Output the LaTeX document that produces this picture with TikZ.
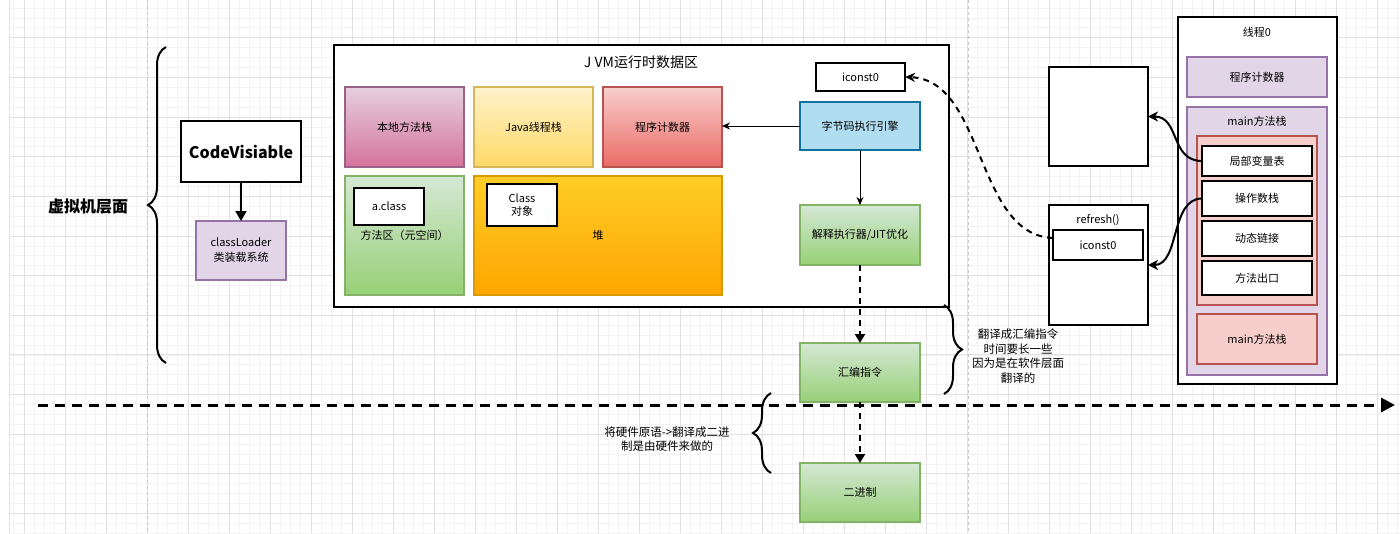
\documentclass[tikz,border=0pt]{standalone}
\usepackage{fontspec}
\setmainfont{Noto Sans CJK SC}
\usetikzlibrary{arrows.meta,decorations.pathreplacing}

\definecolor{gridminor}{HTML}{F3F3F3}
\definecolor{gridmajor}{HTML}{E2E2E2}
\definecolor{pagebreak}{HTML}{C8C8C8}
\definecolor{lavfill}{HTML}{E1D5E7}
\definecolor{lavline}{HTML}{9673A6}
\definecolor{greentop}{HTML}{D5E8D4}
\definecolor{greenbot}{HTML}{97D077}
\definecolor{greenline}{HTML}{82B366}
\definecolor{pinktop}{HTML}{E6D0DE}
\definecolor{pinkbot}{HTML}{D5739D}
\definecolor{pinkline}{HTML}{996185}
\definecolor{yellowtop}{HTML}{FFF2CC}
\definecolor{yellowbot}{HTML}{FFD966}
\definecolor{yellowline}{HTML}{D6B656}
\definecolor{redtop}{HTML}{F8CECC}
\definecolor{redbot}{HTML}{EA6B66}
\definecolor{redline}{HTML}{B85450}
\definecolor{orangetop}{HTML}{FFCD28}
\definecolor{orangebot}{HTML}{FFA500}
\definecolor{orangeline}{HTML}{D79B00}
\definecolor{bluefill}{HTML}{B1DDF0}
\definecolor{blueline}{HTML}{10739E}

\tikzset{
  jbox/.style={draw, line width=1.5pt, inner sep=2pt, outer sep=0pt, anchor=north west,
    align=center, font=\fontsize{11}{14}\selectfont},
  blackbox/.style={jbox, draw=black, fill=white, line width=2pt},
  lavbox/.style={jbox, draw=lavline, fill=lavfill},
  pinkbox/.style={jbox, draw=pinkline, top color=pinktop, bottom color=pinkbot},
  yellowbox/.style={jbox, draw=yellowline, top color=yellowtop, bottom color=yellowbot},
  redbox/.style={jbox, draw=redline, top color=redtop, bottom color=redbot},
  redplain/.style={jbox, draw=redline, fill=redtop},
  orangebox/.style={jbox, draw=orangeline, top color=orangetop, bottom color=orangebot},
  greenbox/.style={jbox, draw=greenline, top color=greentop, bottom color=greenbot},
  bluebox/.style={jbox, draw=blueline, fill=bluefill},
  txt/.style={inner sep=0pt, align=center, font=\fontsize{11}{14}\selectfont},
  thinarrow/.style={line width=1pt, -{Stealth[length=8pt,width=7pt]}},
  solidarrow/.style={line width=2pt, -{Triangle[length=10pt,width=11pt]}},
  dasharrow/.style={line width=2pt, dash pattern=on 6pt off 5pt, -{Triangle[length=9pt,width=10pt]}},
  dashcurve/.style={line width=2pt, dash pattern=on 6pt off 5pt, -{Stealth[length=10pt,width=9pt]}},
  curvearrow/.style={line width=2pt, -{Stealth[length=10pt,width=10pt,inset=3pt]}},
  bigdash/.style={line width=3pt, dash pattern=on 10pt off 7pt, -{Triangle[length=14pt,width=14pt]}},
  curly/.style={decorate, decoration={brace, amplitude=18pt}, line width=2pt},
}

\begin{document}
\begin{tikzpicture}[x=1pt, y=-1pt]
  \useasboundingbox[fill=white] (0,0) rectangle (1400,533);
  % grid and page breaks
  \foreach \k in {-13,...,122}
    \draw[gridminor, line width=0.6pt] ({147+10.25*\k},0) -- ({147+10.25*\k},533);
  \foreach \k in {-3,...,50}
    \draw[gridminor, line width=0.6pt] (9,{37.7+9.91*\k}) -- (1400,{37.7+9.91*\k});
  \foreach \k in {-12,-8,...,120}
    \draw[gridmajor, line width=0.8pt] ({147+10.25*\k},0) -- ({147+10.25*\k},533);
  \foreach \k in {0,4,...,48}
    \draw[gridmajor, line width=0.8pt] (9,{37.7+9.91*\k}) -- (1400,{37.7+9.91*\k});
  \draw[gridmajor, line width=0.8pt] (9,0) -- (9,533);
  \draw[pagebreak, dashed] (147,0) -- (147,533);
  \draw[pagebreak, dashed] (968,0) -- (968,533);

  % left part
  \node[txt, font=\bfseries\fontsize{16}{18}\selectfont] (vmlayer) at (88,207) {虚拟机层面};
  \draw[curly] (166,363) -- (166,47);
  \node[blackbox, minimum width=120, minimum height=61, font=\bfseries\fontsize{16}{18}\selectfont] (code) at (181,121) {CodeVisiable};
  \node[lavbox, minimum width=90, minimum height=59, font=\fontsize{11}{15}\selectfont] (loader) at (196,221) {classLoader\\类装载系统};
  \draw[solidarrow] (code) -- (loader);

  % runtime data area
  \node[blackbox, minimum width=615, minimum height=262] (jvm) at (334,45) {};
  \node[txt, font=\fontsize{14}{16}\selectfont] (jvmtitle) at (641,62) {J VM运行时数据区};
  \node[blackbox, minimum width=89, minimum height=28] (iconsta) at (816,63) {iconst0};
  \node[pinkbox, minimum width=119, minimum height=80] (native) at (345,87) {本地方法栈};
  \node[yellowbox, minimum width=119, minimum height=80] (javastack) at (474,87) {Java线程栈};
  \node[redbox, minimum width=119, minimum height=80] (pc) at (603,87) {程序计数器};
  \node[bluebox, minimum width=120, minimum height=48] (engine) at (800,102) {字节码执行引擎};
  \node[greenbox, minimum width=119, minimum height=119] (method) at (345,176) {方法区（元空间）};
  \node[blackbox, minimum width=70, minimum height=37] (aclass) at (354,188) {a.class};
  \node[orangebox, minimum width=248, minimum height=119] (heap) at (474,176) {堆};
  \node[blackbox, minimum width=70, minimum height=42, font=\fontsize{11}{13}\selectfont] (classobj) at (487,184) {Class\\对象};
  \node[greenbox, minimum width=120, minimum height=60] (interp) at (800,205) {解释执行器/JIT优化};
  \node[greenbox, minimum width=120, minimum height=59] (asm) at (800,343) {汇编指令};
  \node[greenbox, minimum width=120, minimum height=59] (bin) at (800,463) {二进制};

  \draw[thinarrow] (engine.west) -- (engine.west -| pc.east);
  \draw[thinarrow] (engine) -- (interp);
  \draw[dasharrow] (interp) -- (asm);
  \draw[dasharrow] (asm) -- (bin);

  % notes
  \draw[curly] (944,305) -- (944,394);
  \node[txt, font=\fontsize{11.5}{14.5}\selectfont] (asmnote) at (1018,356) {翻译成汇编指令\\时间要长一些\\因为是在软件层面\\翻译的};
  \draw[curly] (771,473) -- (771,393);
  \node[txt, font=\fontsize{11.5}{14}\selectfont] (binnote) at (667,439) {将硬件原语->翻译成二进\\制是由硬件来做的};

  \coordinate (flowstart) at (38,405);
  \coordinate (flowend) at (1395,405);
  \draw[bigdash] (flowstart) -- (flowend);

  % thread
  \node[blackbox, minimum width=99, minimum height=99] (frame) at (1049,67) {};
  \node[blackbox, minimum width=99, minimum height=120] (refresh) at (1049,205) {};
  \node[txt] (refreshname) at (1098,220) {refresh()};
  \node[blackbox, minimum width=90, minimum height=30] (iconstb) at (1053,230) {iconst0};
  \node[blackbox, minimum width=159, minimum height=367] (thread) at (1178,17) {};
  \node[txt] (threadname) at (1257,32) {线程0};
  \node[lavbox, minimum width=140, minimum height=40] (pcb) at (1187,57) {程序计数器};
  \node[lavbox, minimum width=140, minimum height=268] (mainstack) at (1187,107) {};
  \node[txt] (mainname) at (1257,121) {main方法栈};
  \node[redplain, minimum width=120, minimum height=169] (frameset) at (1197,136) {};
  \node[blackbox, minimum width=110, minimum height=30] (localvar) at (1202,146) {局部变量表};
  \node[blackbox, minimum width=110, minimum height=35] (opstack) at (1202,181) {操作数栈};
  \node[blackbox, minimum width=110, minimum height=35] (dynlink) at (1202,221) {动态链接};
  \node[blackbox, minimum width=110, minimum height=34] (exitaddr) at (1202,261) {方法出口};
  \node[redplain, minimum width=120, minimum height=50] (mainframe) at (1197,314) {main方法栈};

  \draw[curvearrow] (localvar.west) .. controls +(-32,0) and +(32,0) .. (frame.east);
  \draw[curvearrow] (opstack.west) .. controls +(-32,0) and +(32,0) .. (refresh.east);
  \draw[dashcurve] ([yshift=7pt]iconstb.west) .. controls (975,235) and (985,80) .. (iconsta.east);
\end{tikzpicture}
\end{document}
